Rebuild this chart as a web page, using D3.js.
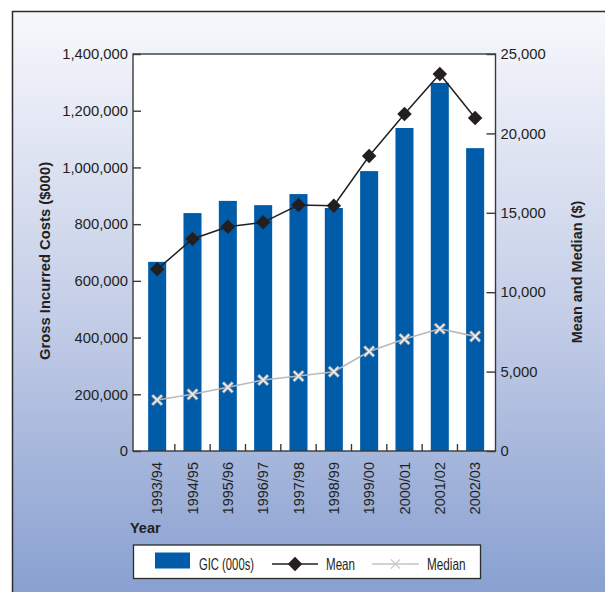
<!DOCTYPE html>
<html>
<head>
<meta charset="utf-8">
<script src="https://cdn.jsdelivr.net/npm/d3@7"></script>
<style>
  html, body { margin: 0; padding: 0; background: #ffffff; }
  svg { display: block; }
  text { font-family: "Liberation Sans", Arial, sans-serif; fill: #231f20; }
</style>
</head>
<body>
<svg id="chart" width="605" height="592"></svg>
<script>
// Fiscal years and their series
const years = ["1993/94", "1994/95", "1995/96", "1996/97", "1997/98",
               "1998/99", "1999/00", "2000/01", "2001/02", "2002/03"];
// Gross incurred costs, in $000
const gic = [667000, 839000, 882000, 867000, 906000, 857000, 987000, 1139000, 1298000, 1068000];
// Mean and median cost per claim, in $
const mean = [11440, 13350, 14120, 14400, 15490, 15450, 18580, 21220, 23740, 20970];
const median = [3210, 3570, 4010, 4470, 4720, 4990, 6270, 7050, 7700, 7220];
// Axis ticks
const leftTicks = [0, 200000, 400000, 600000, 800000, 1000000, 1200000, 1400000];
const rightTicks = [0, 5000, 10000, 15000, 20000, 25000];

const svg = d3.select("#chart");
const W = 605, H = 592;

// Panel background: pale at the top, fading to blue at the bottom
const defs = svg.append("defs");
const grad = defs.append("linearGradient")
  .attr("id", "bg").attr("x1", 0).attr("y1", 0).attr("x2", 0).attr("y2", 1);
grad.append("stop").attr("offset", "0%").attr("stop-color", "#f7f8fc");
grad.append("stop").attr("offset", "50%").attr("stop-color", "#c3cde7");
grad.append("stop").attr("offset", "100%").attr("stop-color", "#829bce");

svg.append("rect")
  .attr("x", 12.5).attr("y", 11.5)
  .attr("width", W + 20).attr("height", H + 20)
  .attr("fill", "url(#bg)")
  .attr("stroke", "#2b2b2b").attr("stroke-width", 1.5);

// Plot frame
const plot = { left: 133, right: 495.5, top: 54, bottom: 451 };

const x = d3.scaleBand()
  .domain(years)
  .range([139.5, 492.8])
  .paddingInner(0.49)
  .paddingOuter(0.245);

const yL = d3.scaleLinear().domain([0, 1400000]).range([plot.bottom, plot.top]);
const yR = d3.scaleLinear().domain([0, 25000]).range([plot.bottom, plot.top]);

svg.append("rect")
  .attr("x", plot.left).attr("y", plot.top)
  .attr("width", plot.right - plot.left).attr("height", plot.bottom - plot.top)
  .attr("fill", "#ffffff");

// Bars
svg.append("g").selectAll("rect")
  .data(years)
  .join("rect")
  .attr("x", d => x(d))
  .attr("width", x.bandwidth())
  .attr("y", (d, i) => yL(gic[i]))
  .attr("height", (d, i) => yL(0) - yL(gic[i]))
  .attr("fill", "#005ca9");

// Frame lines
const frame = svg.append("g").attr("stroke", "#3a3a3a").attr("stroke-width", 1.4).attr("fill", "none");
frame.append("rect")
  .attr("x", plot.left).attr("y", plot.top)
  .attr("width", plot.right - plot.left).attr("height", plot.bottom - plot.top);

// Left axis (ticks point into the plot)
const fmt = d3.format(",");
const leftAxis = d3.axisLeft(yL).tickValues(leftTicks).tickFormat(fmt).tickSize(-8).tickPadding(5);
const gL = svg.append("g").attr("transform", `translate(${plot.left},0)`).call(leftAxis);
gL.select(".domain").remove();
gL.selectAll(".tick line").attr("stroke", "#3a3a3a").attr("stroke-width", 1.4);
gL.selectAll(".tick text").attr("font-size", 14.8).attr("fill", "#231f20")
  .attr("font-family", "'Liberation Sans', Arial, sans-serif");

// Right axis
const rightAxis = d3.axisRight(yR).tickValues(rightTicks).tickFormat(fmt).tickSize(-9).tickPadding(5);
const gR = svg.append("g").attr("transform", `translate(${plot.right},0)`).call(rightAxis);
gR.select(".domain").remove();
gR.selectAll(".tick line").attr("stroke", "#3a3a3a").attr("stroke-width", 1.4);
gR.selectAll(".tick text").attr("font-size", 14.8).attr("fill", "#231f20")
  .attr("font-family", "'Liberation Sans', Arial, sans-serif");

// Bottom ticks between the bars
const step = x.step();
const divisions = years.slice(1).map(d => x(d) - x.paddingInner() * step / 2);
svg.append("g").selectAll("line")
  .data(divisions)
  .join("line")
  .attr("x1", d => d).attr("x2", d => d)
  .attr("y1", plot.bottom).attr("y2", plot.bottom - 7)
  .attr("stroke", "#3a3a3a").attr("stroke-width", 1.4);

// Year labels, rotated
svg.append("g").selectAll("text")
  .data(years)
  .join("text")
  .attr("transform", d => `translate(${x(d) + x.bandwidth() / 2},462) rotate(-90)`)
  .attr("text-anchor", "end")
  .attr("dy", "0.36em")
  .attr("font-size", 14.5)
  .text(d => d);

// Mean and median lines
const cx = d => x(d) + x.bandwidth() / 2;
const seriesLine = d3.line().x((d, i) => cx(years[i])).y(d => yR(d));

svg.append("path")
  .datum(median)
  .attr("d", seriesLine)
  .attr("fill", "none").attr("stroke", "#b9b9b9").attr("stroke-width", 1.6);

// Median crosses: grey outline with a pale core
svg.append("g").selectAll("path")
  .data(median)
  .join("path")
  .attr("transform", (d, i) => `translate(${cx(years[i])},${yR(d)}) rotate(45)`)
  .attr("d", "M-7,0H7M0,-7V7")
  .attr("stroke", "#a9a9a9").attr("stroke-width", 3.2).attr("fill", "none");

svg.append("g").selectAll("path")
  .data(median)
  .join("path")
  .attr("transform", (d, i) => `translate(${cx(years[i])},${yR(d)}) rotate(45)`)
  .attr("d", "M-6.5,0H6.5M0,-6.5V6.5")
  .attr("stroke", "#f2f2f2").attr("stroke-width", 1.4).attr("fill", "none");

svg.append("path")
  .datum(mean)
  .attr("d", seriesLine)
  .attr("fill", "none").attr("stroke", "#231f20").attr("stroke-width", 1.5);

// Mean diamonds
svg.append("g").selectAll("path")
  .data(mean)
  .join("path")
  .attr("transform", (d, i) => `translate(${cx(years[i])},${yR(d)}) rotate(45)`)
  .attr("d", d3.symbol(d3.symbolSquare, 105)())
  .attr("fill", "#231f20");

// Axis titles
svg.append("text")
  .attr("transform", `translate(45,261) rotate(-90)`)
  .attr("text-anchor", "middle").attr("dy", "0.36em")
  .attr("font-size", 14.8).attr("font-weight", "bold")
  .text("Gross Incurred Costs ($000)");

svg.append("text")
  .attr("transform", `translate(577,272) rotate(-90)`)
  .attr("text-anchor", "middle").attr("dy", "0.36em")
  .attr("font-size", 14.5).attr("font-weight", "bold")
  .text("Mean and Median ($)");

svg.append("text")
  .attr("x", 130).attr("y", 533)
  .attr("font-size", 14.5).attr("font-weight", "bold")
  .text("Year");

// Legend (condensed lettering)
const lg = svg.append("g");
lg.append("rect")
  .attr("x", 133.5).attr("y", 545).attr("width", 347).attr("height", 33.5)
  .attr("fill", "#ffffff").attr("stroke", "#2b2b2b").attr("stroke-width", 1.3);
lg.append("rect")
  .attr("x", 155).attr("y", 552.5).attr("width", 35).attr("height", 16)
  .attr("fill", "#005ca9");
lg.append("text").attr("x", 199).attr("y", 569.5).attr("font-size", 16.5)
  .attr("textLength", 55).attr("lengthAdjust", "spacingAndGlyphs").text("GIC (000s)");
lg.append("line").attr("x1", 272).attr("x2", 318).attr("y1", 564).attr("y2", 564)
  .attr("stroke", "#231f20").attr("stroke-width", 1.5);
lg.append("path")
  .attr("transform", "translate(295,564) rotate(45)")
  .attr("d", d3.symbol(d3.symbolSquare, 105)())
  .attr("fill", "#231f20");
lg.append("text").attr("x", 326).attr("y", 569.5).attr("font-size", 16.5)
  .attr("textLength", 29).attr("lengthAdjust", "spacingAndGlyphs").text("Mean");
lg.append("line").attr("x1", 372).attr("x2", 419).attr("y1", 564).attr("y2", 564)
  .attr("stroke", "#c4c4c4").attr("stroke-width", 1.3);
lg.append("path")
  .attr("transform", "translate(395.5,564) rotate(45)")
  .attr("d", "M-6.5,0H6.5M0,-6.5V6.5")
  .attr("stroke", "#c4c4c4").attr("stroke-width", 1.2).attr("fill", "none");
lg.append("text").attr("x", 427).attr("y", 569.5).attr("font-size", 16.5)
  .attr("textLength", 38.5).attr("lengthAdjust", "spacingAndGlyphs").text("Median");
</script>
</body>
</html>
